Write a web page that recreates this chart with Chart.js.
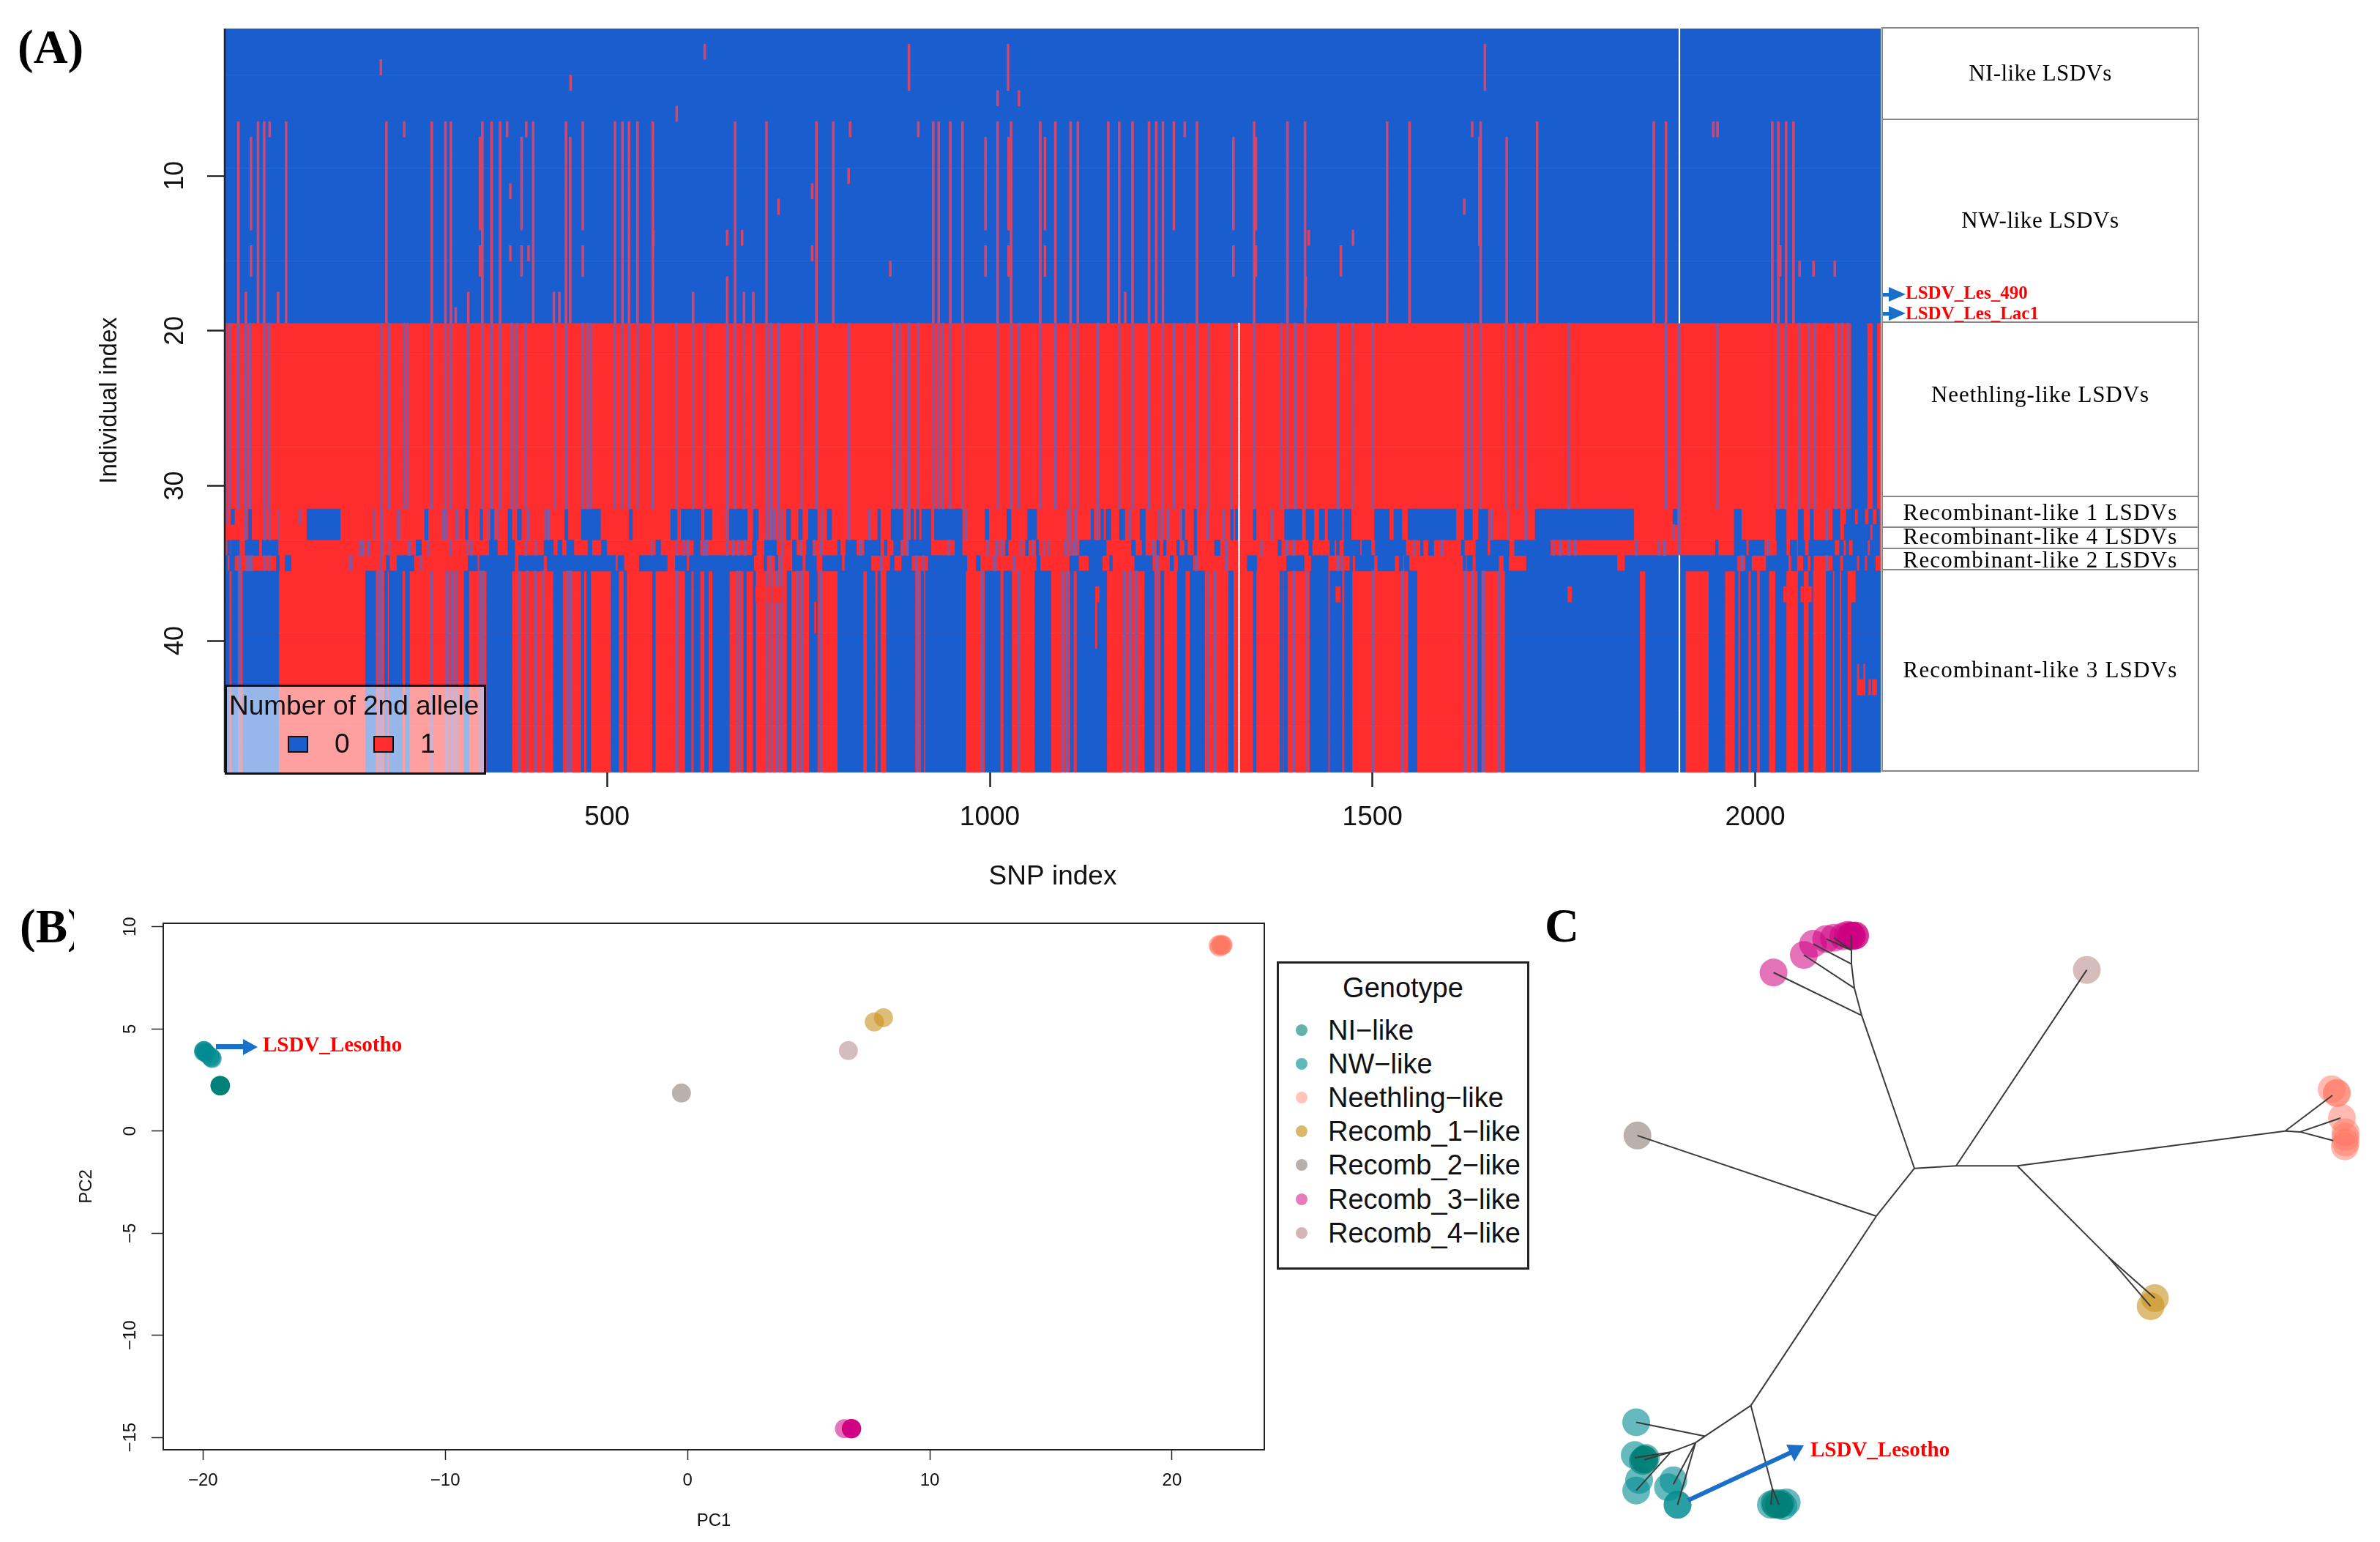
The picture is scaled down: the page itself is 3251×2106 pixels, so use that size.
<!DOCTYPE html>
<html>
<head>
<meta charset="utf-8">
<title>LSDV genotypes</title>
<script src="https://cdn.jsdelivr.net/npm/chart.js@4/dist/chart.umd.min.js"></script>
<style>
html, body { margin: 0; padding: 0; background: #fff; }
body { position: relative; width: 3251px; height: 2106px; overflow: hidden; font-family: "Liberation Sans", sans-serif; color: #111; }
canvas { position: absolute; }
.abs { position: absolute; white-space: nowrap; }
.letter { font-family: "Liberation Serif", serif; font-weight: bold; font-size: 65px; line-height: 70px; color: #000; }
.band { position: absolute; left: 2570px; width: 430px; border: 2px solid #888; border-top-width: 0; font-family: "Liberation Serif", serif; }
.blabel { position: absolute; left: 2570px; width: 434px; text-align: center; font-family: "Liberation Serif", serif; font-size: 31px; letter-spacing: 1.2px; line-height: 36px; color: #000; }
.redlabel { font-family: "Liberation Serif", serif; font-weight: bold; color: #f00; }
.legdot { position: absolute; left: 1770px; width: 16px; height: 16px; border-radius: 50%; }
.legtxt { position: absolute; left: 1814px; font-size: 38px; line-height: 44px; white-space: nowrap; }
</style>
</head>
<body>
<canvas id="chartA" style="left:0;top:0"></canvas>
<canvas id="chartB" style="left:0;top:1242px"></canvas>
<canvas id="chartC" style="left:2101px;top:1203px"></canvas>

<div class="abs letter" style="left:24px;top:29px">(A)</div>
<div class="abs letter" style="left:27px;top:1230px;width:74px;overflow:hidden">(B)</div>
<div class="abs letter" style="left:2110px;top:1229px">C</div>

<!-- group boxes right of the heatmap -->
<div class="band" style="top:37px;height:123px;border-top-width:2px"></div>
<div class="band" style="top:161px;height:278px"></div>
<div class="band" style="top:441px;height:236px"></div>
<div class="band" style="top:679px;height:40px"></div>
<div class="band" style="top:721px;height:27px"></div>
<div class="band" style="top:750px;height:27px"></div>
<div class="band" style="top:779px;height:273px"></div>
<div class="blabel" style="top:82px;letter-spacing:0.4px">NI-like LSDVs</div>
<div class="blabel" style="top:283px;letter-spacing:0.6px">NW-like LSDVs</div>
<div class="blabel" style="top:521px;letter-spacing:0.9px">Neethling-like LSDVs</div>
<div class="blabel" style="top:682px">Recombinant-like 1 LSDVs</div>
<div class="blabel" style="top:715px">Recombinant-like 4 LSDVs</div>
<div class="blabel" style="top:747px">Recombinant-like 2 LSDVs</div>
<div class="blabel" style="top:897px">Recombinant-like 3 LSDVs</div>
<div class="abs redlabel" style="left:2603px;top:386px;font-size:25px;line-height:28px">LSDV_Les_490</div>
<div class="abs redlabel" style="left:2603px;top:414px;font-size:25px;line-height:28px">LSDV_Les_Lac1</div>

<!-- allele legend sitting over the heatmap -->
<div class="abs" style="left:307px;top:935px;width:351px;height:117px;border:3px solid #111;background:rgba(255,255,255,0.55)">
  <div class="abs" style="left:3px;top:5px;font-size:37px;line-height:42px">Number of 2nd allele</div>
  <div class="abs" style="left:83px;top:67px;width:24px;height:19px;border:2px solid #111;background:#1a5dce"></div>
  <div class="abs" style="left:147px;top:57px;font-size:37px;line-height:42px">0</div>
  <div class="abs" style="left:200px;top:67px;width:24px;height:19px;border:2px solid #111;background:#ff2d2d"></div>
  <div class="abs" style="left:264px;top:57px;font-size:37px;line-height:42px">1</div>
</div>

<!-- genotype legend -->
<div class="abs" style="left:1744px;top:1313px;width:339px;height:415px;border:3px solid #222"></div>
<div class="abs" style="left:1744px;top:1326px;width:345px;text-align:center;font-size:38px;line-height:46px">Genotype</div>
<div class="legdot" style="top:1399px;background:#63b2ac"></div><div class="legtxt" style="top:1385px">NI−like</div>
<div class="legdot" style="top:1445px;background:#5eb9bb"></div><div class="legtxt" style="top:1431px">NW−like</div>
<div class="legdot" style="top:1491px;background:#ffc5bb"></div><div class="legtxt" style="top:1477px">Neethling−like</div>
<div class="legdot" style="top:1537px;background:#dcb76b"></div><div class="legtxt" style="top:1523px">Recomb_1−like</div>
<div class="legdot" style="top:1583px;background:#b9afa9"></div><div class="legtxt" style="top:1569px">Recomb_2−like</div>
<div class="legdot" style="top:1630px;background:#e77bbb"></div><div class="legtxt" style="top:1616px">Recomb_3−like</div>
<div class="legdot" style="top:1676px;background:#d5b6b6"></div><div class="legtxt" style="top:1662px">Recomb_4−like</div>

<div class="abs redlabel" style="left:359px;top:1410px;font-size:29px;line-height:32px">LSDV_Lesotho</div>
<div class="abs redlabel" style="left:2473px;top:1963px;font-size:29px;line-height:32px">LSDV_Lesotho</div>

<svg class="abs" style="left:0;top:0" width="3251" height="2106">
  <g fill="#1a6fc9" stroke="none">
    <rect x="2572" y="400" width="12" height="5"/><polygon points="2580,392 2603,402 2580,412"/>
    <rect x="2572" y="426" width="12" height="5"/><polygon points="2580,418 2603,428 2580,438"/>
    <rect x="295" y="1426" width="40" height="7"/><polygon points="332,1419 352,1430 332,1441"/>
    <polygon points="2464,1974 2440,1973 2451,1996"/>
  </g>
  <line x1="2306" y1="2049" x2="2450" y2="1982" stroke="#1a6fc9" stroke-width="6"/>
</svg>

<script>
// ---- panel A: SNP heatmap in SNP index units ----
const individuals = Array.from({ length: 48 }, (_, i) => String(i + 1));
const snpTicks = [500, 1000, 1500, 2000];
const individualTicks = [10, 20, 30, 40];

// red stripes in the blue upper half: [from, to, rowFrom, rowTo]
const niSpots = [[204.5, 204.5, 3, 3], [452.4, 452.4, 4, 4], [627.6, 627.6, 2, 2], [591, 591, 6, 6], [894.4, 894.4, 2, 4],
  [1023.8, 1023.8, 2, 4], [1010.3, 1010.3, 5, 5], [1038.1, 1038.1, 5, 5], [1646.9, 1646.9, 2, 4]];
const nwFull = [18.3, 44, 52, 80.6, 211.8, 271, 288.8, 296, 337, 349.2, 360.2, 403.5, 446.3, 510.4, 520.1, 528.7, 539.7, 559.8,
  667.3, 708.2, 773.5, 795.5, 926.1, 933.3, 948.4, 964.3, 1010.3, 1027.8, 1065.9, 1085.7, 1105.6, 1115.1, 1154.8, 1169.1, 1186.5,
  1208, 1217.5, 1226.2, 1270.7, 1345.3, 1388.9, 1411.9, 1519.1, 1548.4, 1641.3, 1715.1, 1867.5, 1883.4, 2022.3, 2030.2, 2040.5, 2050];
const nwBroken = [34.8, 334, 388.3, 468.3, 994.4, 1024.6, 1072.2, 1318.3, 1347.6];
const nwSpots = [[59.2, 59.2, 7, 7], [235, 235, 7, 7], [369.4, 369.4, 7, 7], [394.4, 394.4, 7, 7], [451.8, 451.8, 8, 19],
  [817.5, 817.5, 7, 7], [815.6, 815.6, 10, 10], [373.6, 373.6, 11, 11], [724, 724, 12, 12], [768, 768, 11, 11],
  [656.9, 656.9, 14, 14], [676.4, 676.4, 14, 14], [560.4, 560.4, 14, 14], [373.6, 373.6, 15, 15], [397.4, 397.4, 15, 15],
  [768, 768, 15, 15], [870, 870, 16, 16], [28.1, 28.1, 18, 19], [70.2, 70.2, 18, 19], [302.2, 302.2, 19, 19], [318.7, 318.7, 18, 19],
  [430.4, 430.4, 18, 19], [437.7, 437.7, 18, 19], [612.3, 612.3, 18, 19], [656.9, 656.9, 17, 19], [678.9, 678.9, 18, 19],
  [691, 691, 18, 19], [906.6, 906.6, 7, 7], [468.3, 468.3, 7, 7], [1240.5, 1240.5, 7, 13], [1254.8, 1254.8, 7, 7], [1630.2, 1630.2, 7, 7],
  [1950.8, 1950.8, 7, 7], [1945.3, 1945.3, 7, 7], [1619.9, 1619.9, 12, 12], [1639.7, 1639.7, 8, 14], [1675.4, 1675.4, 8, 19],
  [1416.7, 1416.7, 14, 14], [1474.6, 1474.6, 14, 14], [1458.7, 1458.7, 15, 16], [2032.6, 2032.6, 15, 16], [2058, 2058, 16, 16],
  [2076.2, 2076.2, 16, 16], [2104, 2104, 16, 16], [1412.7, 1412.7, 17, 18], [1177, 1177, 18, 19]];

// blue stripes in the red Neethling block, rows 20-31
const neethlingThin = [1.2, 7.3, 18.3, 27.5, 33.6, 52, 58, 205, 215, 235, 239.3, 271, 288.8, 296, 318.7, 337, 349.2, 360.2, 375.5,
  382.2, 393.8, 432.2, 446.3, 468.3, 474.4, 478.6, 510.4, 520.1, 528.7, 539.7, 559.8, 591, 612.3, 627, 656.9, 667.3, 678.9, 691, 708.2,
  714.3, 724, 754, 773.5, 816.2, 874.9, 882.2, 894.4, 906.6, 926.1, 933.3, 938.9, 948.4, 964.3, 1010.3, 1027.8, 1038.1, 1065.9,
  1085.7, 1105.6, 1115.1, 1141.3, 1169.1, 1186.5, 1208, 1226.2, 1240.5, 1254.8, 1270.7, 1285.7, 1315.9, 1345.3, 1381, 1388.9, 1399.2,
  1411.9, 1454.8, 1474.6, 1500, 1621.5, 1629.4, 1641.3, 1673.9, 1688.9, 1699.2, 1756.4, 1883.4, 1950.8, 2030.2, 2039.7, 2058, 2069.9,
  2077.8, 2105.6, 2113.6, 2121.5];
const neethlingBlue = [[2125.7, 2146.2], [2154, 2159], [1899.5, 1901.3]];

// blue runs of rows 32-33 (Recombinant-like 1)
const rec1Blue = [[35.5, 31.3], [107.9, 151.4], [261.7, 266.2], [302.7, 305.2], [314.9, 318.4], [334, 337.5], [348, 352.2], [370.6, 375.8],
  [382.8, 388], [395.7, 398.4], [444.7, 448.9], [466.3, 491.4], [528.9, 533.1], [27.1, 28.5], [52.2, 53.9], [58.4, 60.2], [70.6, 71.3],
  [194.9, 196.3], [204.6, 206.3], [226.2, 229], [284.6, 286.7], [289.5, 291.6], [343.8, 345.2], [356.7, 358.4], [418.3, 420.4], [422.8, 424.5],
  [583.2, 591.5], [596.7, 622.8], [627.4, 636.8], [655.2, 656.9], [659.7, 683], [691, 697.7], [707.4, 709.1], [712.6, 715.4], [717.8, 719.6],
  [723.8, 725.8], [728.3, 729.3], [734.5, 739.8], [750.2, 755.1], [763.1, 774.6], [779.8, 781.5], [787.4, 793.4], [815.3, 817], [841.4, 844.2],
  [853.6, 857], [871, 886.6], [891.8, 893.6], [897.1, 900.5], [904, 907.5], [911, 923.2], [927.7, 963.9], [967.4, 969.4], [993.8, 998.7],
  [1022.3, 1027.6], [1049.5, 1061.3], [1100.9, 1102.3], [1104.4, 1105.8], [1111.4, 1113.8], [1132.2, 1135.7], [1139.9, 1141.6], [1145.1, 1148.6],
  [1152.1, 1158.3], [1169.5, 1176.4], [1182.4, 1183.7], [1196.3, 1203.2], [1219.9, 1221.7], [1225.2, 1226.9], [1232.1, 1233.9], [1248.5, 1250.6],
  [1251.3, 1254.7], [1266.9, 1270.4], [1283.3, 1286.1], [1304.2, 1306.2], [1314.6, 1318.1], [1320.9, 1324.3], [1344.5, 1348], [1367.1, 1369.9],
  [1385.2, 1407.9], [1413.1, 1423.5], [1430.5, 1437.4], [1442, 1460.1], [1462.8, 1472.2], [1502.5, 1522], [1527.9, 1538.4], [1546.4, 1609],
  [1620.1, 1630.6], [1638.5, 1650.7], [1654.2, 1657], [1676.8, 1678.5], [1699.4, 1701.9], [1712.6, 1841.4], [1899.5, 1901.3], [1972.6, 1982],
  [2027.2, 2040.5], [2056.1, 2063.1], [2071.8, 2076], [2092.7, 2094.4], [2101.4, 2110.8]];
const row32Blue = [[2.8, 4.2], [8.7, 13.2], [98.1, 100.2], [1892.6, 1897.8], [2118.8, 2130.2], [2134.4, 2143.1], [2148.3, 2153.6], [2158.8, 2162.3]];
const row33Blue = [[2116.3, 2150.1], [2153.6, 2162.3], [1892.6, 1894]];

// row 34 (Recombinant-like 4)
const rec4Blue = [[0.5, 1.4], [4.2, 7.6], [8.7, 19.5], [27.1, 45.2], [49.4, 70.3], [176.8, 178.2], [180.2, 181.6], [187.2, 190], [204.6, 207.4],
  [215.1, 216.8], [240.1, 242.9], [250.5, 257.5], [266.2, 267.2], [295.1, 297.2], [316.7, 318.4], [321.9, 323.6], [346.2, 356.7], [370.6, 379.3],
  [393.2, 395], [406.4, 407.8], [417.6, 429.8], [435.7, 441.2], [447.2, 456.6], [475, 480.2], [492.4, 499.4], [557.8, 559.5], [563.7, 569.9],
  [590.1, 591.9], [599.5, 601.3], [604.7, 607.2], [613.4, 621.4], [624.9, 627], [629.1, 631.2], [656.2, 657.6], [663.9, 665.6], [670.9, 672.6],
  [679.6, 681.3], [690, 695.2], [705.7, 721.3], [728.3, 730], [742.2, 747.4], [752.6, 754.4], [760.6, 768.3], [770, 771.8], [778, 780.5],
  [801.4, 804.8], [811.8, 825.7], [830.2, 832.7], [836.2, 857], [862.3, 865.7], [874.4, 883.1], [884.9, 886.6], [890.8, 893.6], [894.3, 923.2],
  [945.8, 947.5], [954.5, 963.9], [996.2, 998], [1008.4, 1010.2], [1014.7, 1017.1], [1020.6, 1024.1], [1039.7, 1041.5], [1046.7, 1050.2],
  [1055.4, 1057.1], [1060.6, 1064.1], [1070.4, 1072.1], [1076.3, 1078], [1098.1, 1099.9], [1104.4, 1105.8], [1108.6, 1110], [1112, 1113.5],
  [1117.3, 1152.1], [1185.1, 1190.4], [1199, 1203.2], [1213, 1214.7], [1218.2, 1221.7], [1226.9, 1230.4], [1244.3, 1247.8], [1254.7, 1258.2],
  [1266.9, 1270.4], [1293.7, 1300.7], [1307.6, 1310.4], [1353.9, 1355.7], [1376.5, 1380.7], [1387, 1389.8], [1395.7, 1398.1], [1416.6, 1421.1],
  [1444.4, 1450.3], [1453.1, 1456.6], [1462.8, 1483.7], [1486.2, 1498.3], [1503.6, 1543.6], [1554, 1555.8], [1562.7, 1566.2], [1573.2, 1580.1],
  [1589.9, 1591.6], [1616, 1620.1], [1635, 1650], [1654.2, 1678.5], [1685.5, 1732.5], [1736, 1737.7], [1744, 1746.4], [1755.8, 1757.9],
  [1763.8, 1766.2], [1843.8, 1845.6], [1873.4, 1875.2], [1880.4, 1883.2], [1899.5, 1901.3], [1948.2, 1951.7], [1972.6, 1988.3], [1991.7, 2011.9],
  [2015.4, 2017.8], [2028.3, 2040.5], [2045.7, 2054.4], [2056.1, 2064.8], [2070, 2103.8], [2110.1, 2115.3], [2118.8, 2122.2], [2127.5, 2146.6],
  [2150.1, 2162.3]];

// row 35 (Recombinant-like 2)
const rec2Blue = [[0.5, 4.2], [7, 13.2], [18.1, 20.9], [28.5, 29.9], [31.3, 32.7], [34.1, 36.5], [52.2, 53.2], [58.4, 59.8], [67.8, 72], [79.3, 87],
  [163.5, 166.3], [203.6, 205.3], [211.6, 215.7], [225.5, 247.8], [255.8, 257.5], [318.4, 330.6], [333.4, 379.3], [384.5, 416.9], [421.8, 510.8],
  [514.3, 522], [542.1, 578.6], [589.1, 604], [607.5, 691.7], [705, 708.4], [712.6, 714.4], [719.6, 723.1], [726.5, 728.3], [742.2, 755.1],
  [759.6, 773.5], [781.5, 806.6], [810.8, 844.9], [857, 859.5], [869.9, 875.1], [884.9, 897.8], [903.3, 904.7], [912.7, 913.8], [919.7, 970.1],
  [982.3, 987.5], [1005, 1007.7], [1031, 1033.5], [1061.3, 1065.8], [1104.4, 1116.2], [1129.5, 1146.9], [1156.6, 1160.1], [1189.3, 1212.3],
  [1217.2, 1219.9], [1235.6, 1240.1], [1246, 1251.3], [1252, 1265.2], [1268.7, 1271.4], [1307.6, 1310.4], [1336.5, 1348.7], [1387.7, 1410.6],
  [1420, 1442], [1453.1, 1455.9], [1459.4, 1460.8], [1470.5, 1474], [1477.5, 1501.8], [1507, 1511.6], [1512.3, 1529], [1534.9, 1540.1],
  [1541.8, 1547.8], [1618.4, 1621.9], [1623.6, 1630.6], [1635, 1664.6], [1671.6, 1677.8], [1701.2, 1819.5], [1829.9, 1976.1], [1981.3, 1984.1],
  [1987.6, 1995.2], [2014.4, 2043.2], [2047.4, 2054.4], [2063.1, 2068.3], [2072.5, 2076], [2092, 2094.4], [2101.4, 2110.8], [2115.3, 2132.7],
  [2136.2, 2143.1], [2146.6, 2157]];

// rows 36-48 (Recombinant-like 3)
const rec3Blue = [[0.5, 6.2], [9.7, 17.4], [19.5, 21.6], [24.3, 71], [184.4, 197.6], [200.1, 202.5], [205.3, 207.4], [209.5, 213], [215.1, 232.4],
  [236.6, 241.8], [269.7, 271.4], [289.5, 292.3], [296.5, 299.3], [302.7, 303.8], [313.2, 319.4], [333.4, 335.8], [337.5, 339.3], [342.8, 375.8],
  [384.5, 386.3], [395, 396.7], [405.4, 407.1], [415.8, 416.9], [429.8, 441.9], [447.2, 448.9], [450.6, 453.1], [466.3, 469.8], [473.3, 478.5],
  [505.3, 515], [522, 525.5], [559.5, 563], [590.1, 592.6], [602, 610], [613.4, 621.4], [627.4, 632.6], [637.8, 659.7], [669.1, 670.2], [672.6, 674.3],
  [678.5, 682], [691, 694.2], [708.4, 709.8], [714.4, 716.1], [721.3, 723.1], [726.5, 728.3], [735.2, 740.5], [748.1, 750.2], [753.7, 756.1],
  [764.1, 774.6], [778.7, 780.5], [801.4, 834.4], [839.6, 850.1], [853.6, 857], [865, 902.3], [904.7, 906.8], [910.3, 913.8], [916.2, 968.4],
  [989.3, 991], [993.8, 1013.6], [1018.2, 1028.6], [1036.3, 1039], [1058.9, 1079.8], [1094.7, 1096.4], [1099.9, 1101.6], [1105.1, 1109.3],
  [1113.8, 1152.8], [1174.7, 1177.5], [1182.4, 1185.1], [1190.4, 1192.8], [1202.5, 1214.7], [1218.2, 1219.9], [1223.4, 1227.6], [1245, 1255.4],
  [1261.7, 1280.8], [1284.3, 1285.4], [1293, 1295.8], [1312.2, 1318.1], [1344.5, 1348], [1379.3, 1382.8], [1384.2, 1388.7], [1395.7, 1398.1],
  [1413.1, 1414.8], [1418.3, 1442], [1444.4, 1460.1], [1463.5, 1473.3], [1500.1, 1501.8], [1538.4, 1540.8], [1547, 1558.2], [1619.4, 1621.9],
  [1629.9, 1632.3], [1637.5, 1642], [1643.7, 1646.5], [1664.6, 1666.4], [1673.3, 1849.1], [1856.7, 1908.9], [1939.5, 1960.4], [1973.6, 1977.8],
  [1980.6, 1991], [1994.5, 2002.2], [2006.4, 2017.8], [2026.6, 2040.5], [2056.1, 2063.1], [2070, 2075.3], [2092.7, 2101.4], [2103.8, 2110.1],
  [2112.8, 2120.5], [2125.7, 2164]];
// small red patches inside the blue runs of rows 36-48: [from, to, rowFrom, rowTo]
const rec3Red = [[1138, 1143, 37, 37], [1138, 1140, 38, 40], [1755.1, 1760.3, 37, 37], [2124, 2130.9, 36, 37], [2037, 2040.5, 37, 37],
  [2059.6, 2063, 37, 37], [2068, 2073.5, 37, 37], [1452, 1458, 37, 37], [694, 700, 37, 37], [708.4, 714, 37, 37], [716, 728, 37, 37],
  [771, 773, 38, 39], [2133.5, 2135.5, 42, 43], [2141.5, 2143.5, 42, 43], [2133.5, 2143.5, 43, 43], [2148.3, 2151, 43, 43], [2153, 2158.8, 43, 43]];
const whiteGaps = [[1900.2, 1901.7, 1, 19], [1900.2, 1901.7, 35, 48], [1324.8, 1326.4, 20, 48]];

const blue = '#1a5dce', red = '#ff2d2d';
const pinkLine = '#d2466c', purpleLine = '#7d5aa8';

var baseBars = [], blueBars = [], redBars = [], pinkBars = [], purpleBars = [], whiteBars = [];
function fillRows(list, run, fromRow, toRow) {
  for (var r = fromRow; r <= toRow; r++) list.push({ x: [Math.min(run[0], run[1]), Math.max(run[0], run[1])], y: String(r) });
}
function thinRed(snp, fromRow, toRow) { fillRows(pinkBars, [snp - 1.4, snp + 1.4], fromRow, toRow); }
function blueRuns(runs, fromRow, toRow) {
  runs.forEach(function (run) {
    // short runs look blended in the picture
    var w = Math.abs(run[1] - run[0]);
    if (w < 3.2) fillRows(purpleBars, [run[0] - 0.4, run[1] + 0.4], fromRow, toRow);
    else fillRows(blueBars, run, fromRow, toRow);
  });
}
fillRows(baseBars, [0.5, 2164], 1, 19);
niSpots.concat(nwSpots).forEach(function (s) { thinRed(s[0], s[2], s[3]); });
nwFull.forEach(function (s) { thinRed(s, 7, 19); });
nwBroken.forEach(function (s) { thinRed(s, 8, 13); thinRed(s, 15, 16); });
neethlingThin.forEach(function (s) { fillRows(purpleBars, [s - 1.3, s + 1.3], 20, 31); });
blueRuns(neethlingBlue, 20, 31);
blueRuns(rec1Blue, 32, 33);
blueRuns(row32Blue, 32, 32);
blueRuns(row33Blue, 33, 33);
blueRuns(rec4Blue, 34, 34);
blueRuns(rec2Blue, 35, 35);
blueRuns(rec3Blue, 36, 48);
rec3Red.forEach(function (s) { fillRows(redBars, [s[0], s[1]], s[2], s[3]); });
whiteGaps.forEach(function (s) { fillRows(whiteBars, [s[0], s[1]], s[2], s[3]); });

// red background of the lower rows, put on its own list because of the colour
var baseRedBars = [];
fillRows(baseRedBars, [0.5, 2164], 20, 48);

// R-style rotated y tick labels, centred on their tick
const rotatedTicks = {
  id: 'rotatedTicks',
  afterDraw(chart, args, opts) {
    var y = chart.scales.y, c = chart.ctx;
    c.save();
    c.font = opts.font; c.fillStyle = '#111'; c.textAlign = 'center'; c.textBaseline = 'middle';
    y.ticks.forEach(function (t, i) {
      c.save();
      c.translate(opts.x, y.getPixelForTick(i));
      c.rotate(-Math.PI / 2);
      c.fillText(opts.labels[i], 0, 0);
      c.restore();
    });
    c.restore();
  }
};
const frame = {
  id: 'frame',
  afterDraw(chart, args, opts) {
    var a = chart.chartArea, c = chart.ctx;
    c.save();
    c.strokeStyle = opts.color; c.lineWidth = opts.width;
    if (opts.leftOnly) {
      c.beginPath(); c.moveTo(a.left, a.top); c.lineTo(a.left, a.bottom); c.stroke();
    } else {
      c.strokeRect(a.left, a.top, a.right - a.left, a.bottom - a.top);
    }
    c.restore();
  }
};

function barSet(data, color) {
  return { data: data, backgroundColor: color, borderWidth: 0, barPercentage: 1, categoryPercentage: 1, grouped: false };
}

document.getElementById('chartA').width = 2640;
document.getElementById('chartA').height = 1240;
new Chart(document.getElementById('chartA').getContext('2d'), {
  type: 'bar',
  plugins: [rotatedTicks, frame],
  data: {
    labels: individuals,
    // first dataset ends up on top
    datasets: [
      barSet(whiteBars, '#ffffff'),
      barSet(pinkBars, pinkLine),
      barSet(redBars, red),
      barSet(purpleBars, purpleLine),
      barSet(blueBars, blue),
      barSet(baseBars, blue),
      barSet(baseRedBars, red)
    ]
  },
  options: {
    indexAxis: 'y',
    responsive: false,
    animation: false,
    devicePixelRatio: 1,
    layout: { padding: { left: 120, right: 71, top: 39, bottom: 0 } },
    plugins: {
      legend: { display: false },
      tooltip: { enabled: false },
      rotatedTicks: { x: 240, font: '36px "Liberation Sans"', labels: individualTicks.map(String) },
      frame: { color: '#222', width: 2.5, leftOnly: true }
    },
    scales: {
      x: {
        type: 'linear', min: 0.5, max: 2164,
        afterBuildTicks: function (s) { s.ticks = snpTicks.map(function (v) { return { value: v }; }); },
        afterFit: function (s) { s.height = 185; },
        grid: { drawOnChartArea: false, tickLength: 20, tickColor: '#222', tickWidth: 2.5 },
        border: { display: false },
        ticks: { color: '#111', font: { family: 'Liberation Sans', size: 37 }, padding: 20, maxRotation: 0, autoSkip: false,
          callback: function (v) { return String(v); } },
        title: { display: true, text: 'SNP index', color: '#111', font: { family: 'Liberation Sans', size: 37 }, padding: 20 }
      },
      y: {
        type: 'category',
        afterBuildTicks: function (s) { s.ticks = s.ticks.filter(function (t) { return individualTicks.indexOf(t.value + 1) >= 0; }); },
        afterFit: function (s) { s.width = 187; },
        grid: { drawOnChartArea: false, offset: false, tickLength: 24, tickColor: '#222', tickWidth: 2.5 },
        border: { display: false },
        ticks: { display: false, autoSkip: false },
        title: { display: true, text: 'Individual index', color: '#111', font: { family: 'Liberation Sans', size: 33 }, padding: 10 }
      }
    }
  }
});

// ---- panel B: PCA ----
const pc1Ticks = [-20, -10, 0, 10, 20];
const pc2Ticks = [-15, -10, -5, 0, 5, 10];
const pcaNI = [[-19.29, 2.22], [-19.29, 2.22], [-19.29, 2.2], [-19.27, 2.22], [-19.3, 2.24], [-19.29, 2.22]];
const pcaNW = [[-19.96, 3.94], [-19.96, 3.94], [-19.9, 3.85], [-19.98, 3.88], [-19.85, 3.8], [-19.65, 3.59], [-19.7, 3.65], [-19.62, 3.55]];
const pcaNeethling = [[21.9, 9.1], [22, 9.1], [22.1, 9.12], [22, 9.15], [21.95, 9], [22.05, 9.05], [22.1, 9.1]];
const pcaRecomb1 = [[7.71, 5.34], [8.09, 5.55]];
const pcaRecomb2 = [[-0.25, 1.86]];
const pcaRecomb3 = [[6.48, -14.57], [6.77, -14.57], [6.77, -14.57], [6.78, -14.57], [6.77, -14.55], [6.76, -14.58]];
const pcaRecomb4 = [[6.64, 3.94]];

const colNI = 'rgba(0,128,120,0.6)', colNW = 'rgba(0,140,145,0.6)', colNeethling = 'rgba(255,120,100,0.5)',
  colRecomb1 = 'rgba(200,145,30,0.6)', colRecomb2 = 'rgba(140,125,118,0.6)', colRecomb3 = 'rgba(205,0,130,0.55)', colRecomb4 = 'rgba(188,143,143,0.6)';

function pts(list) { return list.map(function (p) { return { x: p[0], y: p[1] }; }); }
function dotSet(list, color, r) {
  return { data: pts(list), backgroundColor: color, borderWidth: 0, pointRadius: r, showLine: false };
}

document.getElementById('chartB').width = 1740;
document.getElementById('chartB').height = 866;
new Chart(document.getElementById('chartB').getContext('2d'), {
  type: 'scatter',
  plugins: [rotatedTicks, frame],
  data: {
    datasets: [
      dotSet(pcaNI, colNI, 13), dotSet(pcaNW, colNW, 13), dotSet(pcaNeethling, colNeethling, 13), dotSet(pcaRecomb1, colRecomb1, 13),
      dotSet(pcaRecomb2, colRecomb2, 13), dotSet(pcaRecomb3, colRecomb3, 13), dotSet(pcaRecomb4, colRecomb4, 13)
    ]
  },
  options: {
    responsive: false,
    animation: false,
    devicePixelRatio: 1,
    layout: { padding: { left: 100, right: 10, top: 19, bottom: 0 } },
    plugins: {
      legend: { display: false },
      tooltip: { enabled: false },
      rotatedTicks: { x: 178, font: '24px "Liberation Sans"', labels: pc2Ticks.map(function (v) { return String(v).replace('-', '−'); }) },
      frame: { color: '#222', width: 2 }
    },
    scales: {
      x: {
        type: 'linear', min: -21.64, max: 23.81,
        afterBuildTicks: function (s) { s.ticks = pc1Ticks.map(function (v) { return { value: v }; }); },
        afterFit: function (s) { s.height = 128; },
        grid: { drawOnChartArea: false, tickLength: 14, tickColor: '#222', tickWidth: 1.5 },
        border: { display: false },
        ticks: { color: '#111', font: { family: 'Liberation Sans', size: 24 }, padding: 14, maxRotation: 0, autoSkip: false,
          callback: function (v) { return String(v).replace('-', '−'); } },
        title: { display: true, text: 'PC1', color: '#111', font: { family: 'Liberation Sans', size: 24 }, padding: 16 }
      },
      y: {
        type: 'linear', min: -15.6, max: 10.17,
        afterBuildTicks: function (s) { s.ticks = pc2Ticks.map(function (v) { return { value: v }; }); },
        afterFit: function (s) { s.width = 123; },
        grid: { drawOnChartArea: false, tickLength: 16, tickColor: '#222', tickWidth: 1.5 },
        border: { display: false },
        ticks: { display: false },
        title: { display: true, text: 'PC2', color: '#111', font: { family: 'Liberation Sans', size: 24 }, padding: 4 }
      }
    }
  }
});

// ---- panel C: unrooted tree, in the panel's own plane ----
const treeEdges = [
  [495, 375, 552, 371.5], [552, 371.5, 635.5, 371.5], [495, 375, 443, 440.5], [443, 440.5, 271.6, 700], [495, 375, 423, 165.5],
  [423, 165.5, 302.6, 106.6], [423, 165.5, 413, 128], [413, 128, 344, 82.5], [413, 128, 409, 95], [409, 95, 356.6, 67.3], [409, 95, 409, 76],
  [409, 76, 374.6, 60.6], [409, 76, 385, 59], [409, 76, 408.5, 56], [552, 371.5, 730.5, 103], [443, 440.5, 116.7, 330],
  [635.5, 371.5, 1001.4, 323.8], [1001.4, 323.8, 1066, 275], [1001.4, 323.8, 1022, 325], [1022, 325, 1077, 306], [1022, 325, 1067, 337],
  [635.5, 371.5, 760, 496.6], [760, 496.6, 823.5, 552.8], [760, 496.6, 817.7, 564],
  [271.6, 700, 209, 742], [209, 742, 115, 723], [209, 742, 196, 751], [196, 751, 162, 764], [162, 764, 126, 774.4], [162, 764, 113, 771.6],
  [162, 764, 115, 816.5], [196, 751, 165.7, 808], [196, 751, 171.5, 836], [271.6, 700, 301, 813.7], [301, 813.7, 310, 836], [301, 813.7, 299, 836]
];
const treeNI = [[310, 836], [310, 836], [312, 834], [306, 836], [304, 834], [126, 774], [126, 774], [124, 776], [128, 772]];
const treeNW = [[115, 723], [113, 768], [119, 802], [115, 816.5], [165.7, 802.5], [158.5, 812], [171.5, 836], [171.5, 836], [320.6, 833], [299, 836], [316, 838]];
const treeNeethling = [[1065, 266.6], [1072, 271.6], [1072, 272], [1079, 305.8], [1084, 325.5], [1084, 339.5], [1083, 345], [1084, 332]];
const treeRecomb1 = [[823.5, 552.8], [817.7, 564]];
const treeRecomb2 = [[116.7, 330]];
const treeRecomb3 = [[302.6, 106.6], [344, 82.5], [356.6, 67.3], [374.6, 60.6], [385, 59], [398, 57], [408.5, 56], [408.5, 56], [414, 56], [414, 56], [404, 55], [410, 57]];
const treeRecomb4 = [[730.5, 103]];

var treeSets = treeEdges.map(function (e) {
  return { data: [{ x: e[0], y: e[1] }, { x: e[2], y: e[3] }], showLine: true, borderColor: '#3a3a3a', borderWidth: 2, pointRadius: 0 };
});
treeSets.push(dotSet(treeNI, colNI, 19), dotSet(treeNW, colNW, 19), dotSet(treeNeethling, colNeethling, 19), dotSet(treeRecomb1, colRecomb1, 19),
  dotSet(treeRecomb2, colRecomb2, 19), dotSet(treeRecomb3, colRecomb3, 19), dotSet(treeRecomb4, colRecomb4, 19));

document.getElementById('chartC').width = 1150;
document.getElementById('chartC').height = 903;
new Chart(document.getElementById('chartC').getContext('2d'), {
  type: 'scatter',
  data: { datasets: treeSets },
  options: {
    responsive: false,
    animation: false,
    devicePixelRatio: 1,
    layout: { padding: 0 },
    plugins: { legend: { display: false }, tooltip: { enabled: false } },
    scales: {
      x: { type: 'linear', min: 0, max: 1112, display: false },
      y: { type: 'linear', min: 0, max: 868, reverse: true, display: false }
    }
  }
});
</script>
</body>
</html>
